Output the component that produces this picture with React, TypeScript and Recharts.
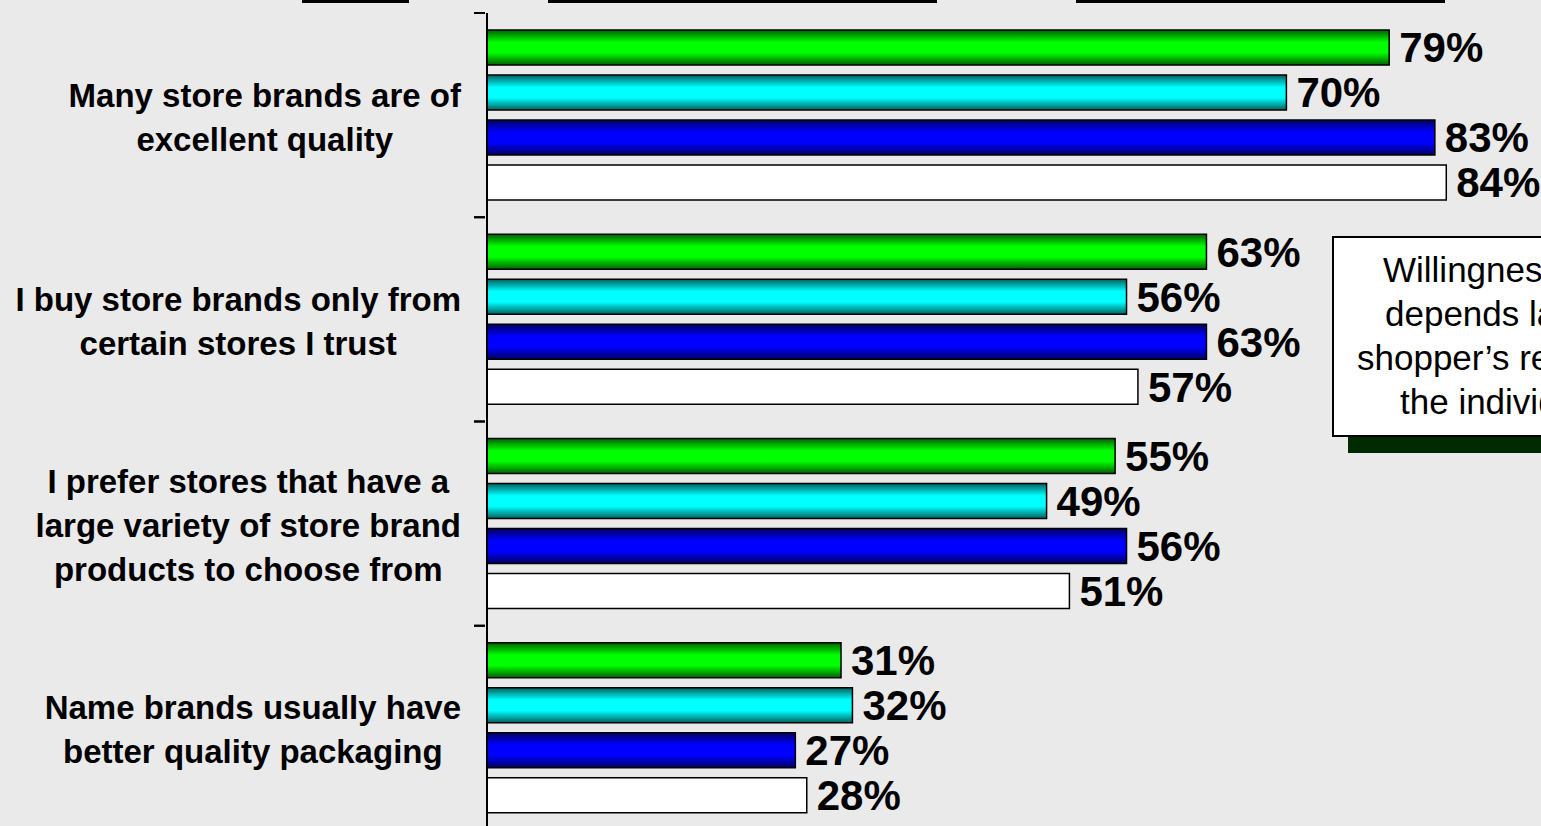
import React from "react";
import { BarChart, Bar, XAxis, YAxis, LabelList } from "recharts";

// statements shown on the left
const categories = [
  "Many store brands are of\nexcellent quality",
  "I buy store brands only from\ncertain stores I trust",
  "I prefer stores that have a\nlarge variety of store brand\nproducts to choose from",
  "Name brands usually have\nbetter quality packaging",
];

// four shopper groups, % agreeing
const seriesA = [79, 63, 55, 31];
const seriesB = [70, 56, 49, 32];
const seriesC = [83, 63, 56, 27];
const seriesD = [84, 57, 51, 28];

const calloutLines = [
  "Willingness to buy",
  "depends largely on",
  "shopper\u2019s regard for",
  "the individual retailer",
];

const data = categories.map((name, i) => ({
  name,
  a: seriesA[i],
  b: seriesB[i],
  c: seriesC[i],
  d: seriesD[i],
}));

const FONT = '"Liberation Sans", Arial, Helvetica, sans-serif';
const CHART_W = 1640;
const CHART_H = 840;
const MARGIN = { top: 13, right: 11, bottom: 10, left: 0 };
const AXIS_W = 487;
const BAND = (CHART_H - MARGIN.top - MARGIN.bottom) / categories.length;
const LABEL_RIGHT = 461;
const LABEL_FONT = 33;

// text blocks are centred on themselves and pushed against the axis
let measureCtx: CanvasRenderingContext2D | null = null;
function textWidth(s: string) {
  if (!measureCtx) {
    const c = document.createElement("canvas");
    measureCtx = c.getContext("2d");
  }
  if (!measureCtx) return s.length * LABEL_FONT * 0.55;
  measureCtx.font = `bold ${LABEL_FONT}px ${FONT}`;
  return measureCtx.measureText(s).width;
}

function CategoryTick(props: any) {
  const { x, y, payload } = props;
  const lines = String(payload.value).split("\n");
  const n = lines.length;
  const top = y - BAND / 2;
  const bottom = y + BAND / 2;
  const maxW = Math.max(...lines.map(textWidth));
  const cx = LABEL_RIGHT - maxW / 2;
  return (
    <g>
      <line x1={x - 11} x2={x} y1={top} y2={top} stroke="#000" strokeWidth={2} />
      <line x1={x - 11} x2={x} y1={bottom} y2={bottom} stroke="#000" strokeWidth={2} />
      <text
        textAnchor="middle"
        fontFamily={FONT}
        fontWeight="bold"
        fontSize={LABEL_FONT}
        fill="#000"
      >
        {lines.map((l, i) => (
          <tspan
            key={i}
            x={cx}
            y={y + (i - (n - 1) / 2) * 44 + 2}
            dominantBaseline="central"
          >
            {l}
          </tspan>
        ))}
      </text>
    </g>
  );
}

const labelStyle = {
  fontFamily: FONT,
  fontWeight: "bold" as const,
  fontSize: 42,
  fill: "#000",
};

export default function App() {
  return (
    <div
      style={{
        position: "fixed",
        left: 0,
        top: 0,
        width: 1541,
        height: 826,
        overflow: "hidden",
        background: "#eaeaea",
      }}
    >
      {/* header underlines, cut off at the top */}
      <div style={{ position: "absolute", left: 302, top: 0, width: 107, height: 3, background: "#000" }} />
      <div style={{ position: "absolute", left: 548, top: 0, width: 389, height: 3, background: "#000" }} />
      <div style={{ position: "absolute", left: 1076, top: 0, width: 369, height: 3, background: "#000" }} />

      <BarChart
        width={CHART_W}
        height={CHART_H}
        data={data}
        layout="vertical"
        margin={MARGIN}
        barCategoryGap={17}
        barGap={10}
      >
        <defs>
          <linearGradient id="gGreen" x1="0" y1="0" x2="0" y2="1">
            <stop offset="0%" stopColor="#005f00" />
            <stop offset="35%" stopColor="#00ff00" />
            <stop offset="65%" stopColor="#00ff00" />
            <stop offset="100%" stopColor="#005f00" />
          </linearGradient>
          <linearGradient id="gCyan" x1="0" y1="0" x2="0" y2="1">
            <stop offset="0%" stopColor="#006060" />
            <stop offset="35%" stopColor="#00ffff" />
            <stop offset="65%" stopColor="#00ffff" />
            <stop offset="100%" stopColor="#006060" />
          </linearGradient>
          <linearGradient id="gBlue" x1="0" y1="0" x2="0" y2="1">
            <stop offset="0%" stopColor="#000060" />
            <stop offset="35%" stopColor="#0000ff" />
            <stop offset="65%" stopColor="#0000ff" />
            <stop offset="100%" stopColor="#000060" />
          </linearGradient>
        </defs>
        <XAxis type="number" domain={[0, 100]} hide />
        <YAxis
          type="category"
          dataKey="name"
          width={AXIS_W}
          axisLine={{ stroke: "#000", strokeWidth: 2 }}
          tickLine={false}
          tickSize={0}
          tick={<CategoryTick />}
          interval={0}
        />
        <Bar dataKey="a" fill="url(#gGreen)" stroke="#000" strokeWidth={1.5} isAnimationActive={false}>
          <LabelList dataKey="a" position="right" offset={10} formatter={(v: any) => `${v}%`} style={labelStyle} />
        </Bar>
        <Bar dataKey="b" fill="url(#gCyan)" stroke="#000" strokeWidth={1.5} isAnimationActive={false}>
          <LabelList dataKey="b" position="right" offset={10} formatter={(v: any) => `${v}%`} style={labelStyle} />
        </Bar>
        <Bar dataKey="c" fill="url(#gBlue)" stroke="#000" strokeWidth={1.5} isAnimationActive={false}>
          <LabelList dataKey="c" position="right" offset={10} formatter={(v: any) => `${v}%`} style={labelStyle} />
        </Bar>
        <Bar dataKey="d" fill="#ffffff" stroke="#000" strokeWidth={1.5} isAnimationActive={false}>
          <LabelList dataKey="d" position="right" offset={10} formatter={(v: any) => `${v}%`} style={labelStyle} />
        </Bar>
      </BarChart>

      {/* callout box with dark green drop shadow */}
      <div
        style={{
          position: "absolute",
          left: 1332,
          top: 236,
          width: 300,
          height: 197,
          background: "#fff",
          border: "2px solid #000",
          boxShadow: "16px 16px 0 #002a00",
          fontFamily: FONT,
          fontSize: 35,
          color: "#000",
        }}
      >
        {calloutLines.map((l, i) => (
          <div
            key={i}
            style={{
              position: "absolute",
              left: [49, 51, 23, 66][i],
              top: 12 + i * 44,
              whiteSpace: "nowrap",
              lineHeight: "40px",
            }}
          >
            {l}
          </div>
        ))}
      </div>
    </div>
  );
}
